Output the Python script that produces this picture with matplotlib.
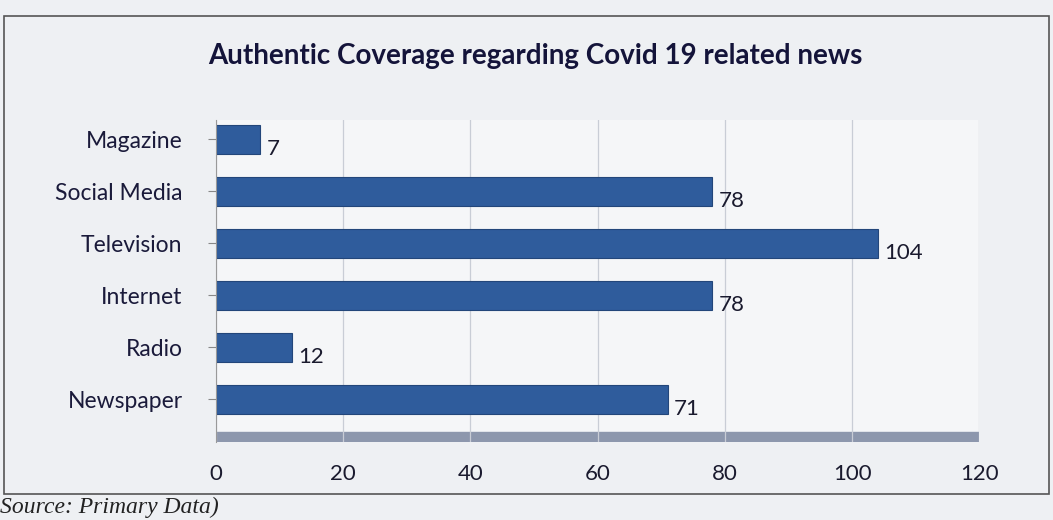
import matplotlib.pyplot as plt
from matplotlib.patches import Rectangle

categories = ["Newspaper", "Radio", "Internet", "Television", "Social Media", "Magazine"]
values = [71, 12, 78, 104, 78, 7]
x_ticks = [0, 20, 40, 60, 80, 100, 120]

plt.rcParams["font.family"] = ["Lato", "DejaVu Sans"]

fig = plt.figure(figsize=(10.53, 5.2), dpi=100)
fig.patch.set_facecolor("#eef0f3")

ax = fig.add_axes([0.205, 0.15, 0.725, 0.62])
ax.set_facecolor("#f5f6f8")

bar_color = "#2f5c9c"
y = range(len(categories))
bars = ax.barh(y, values, height=0.55, color=bar_color, edgecolor="#23467a", linewidth=0.8)

for bar, v in zip(bars, values):
    ax.text(bar.get_width() + 1.0, bar.get_y() + bar.get_height() / 2 - 0.18, str(v),
            va="center", ha="left", fontsize=16, color="#1a1a2e")

# 3D floor under the bars
ax.axhspan(-0.82, -0.62, color="#8d97ad", zorder=0)

ax.set_xlim(0, 120)
ax.set_ylim(-0.82, len(categories) - 0.62)
ax.set_xticks(x_ticks)
ax.set_xticklabels([str(t) for t in x_ticks], fontsize=16, color="#1a1a2e")
ax.set_yticks(list(y))
ax.set_yticklabels(categories, fontsize=16.5, color="#1a1a3a")
ax.tick_params(axis="x", length=0, pad=16)
ax.tick_params(axis="y", length=6, color="#888888", pad=18)
ax.grid(axis="x", color="#c9cdd6", linewidth=0.9)
ax.set_axisbelow(True)
for side in ["top", "right", "bottom"]:
    ax.spines[side].set_visible(False)
ax.spines["left"].set_color("#999999")

fig.text(0.508, 0.893, "Authentic Coverage regarding Covid 19 related news",
         ha="center", va="center", fontsize=20, fontweight="bold", color="#14143a")

fig.text(0.0, 0.025, "Source: Primary Data)", ha="left", va="center", fontsize=17,
         style="italic", family="Liberation Serif", color="#222222")

# outer chart border
fig.add_artist(Rectangle((0.004, 0.05), 0.992, 0.92, transform=fig.transFigure,
                         fill=False, edgecolor="#555555", linewidth=1.2))

fig.savefig("out.png", dpi=100, facecolor=fig.get_facecolor())
